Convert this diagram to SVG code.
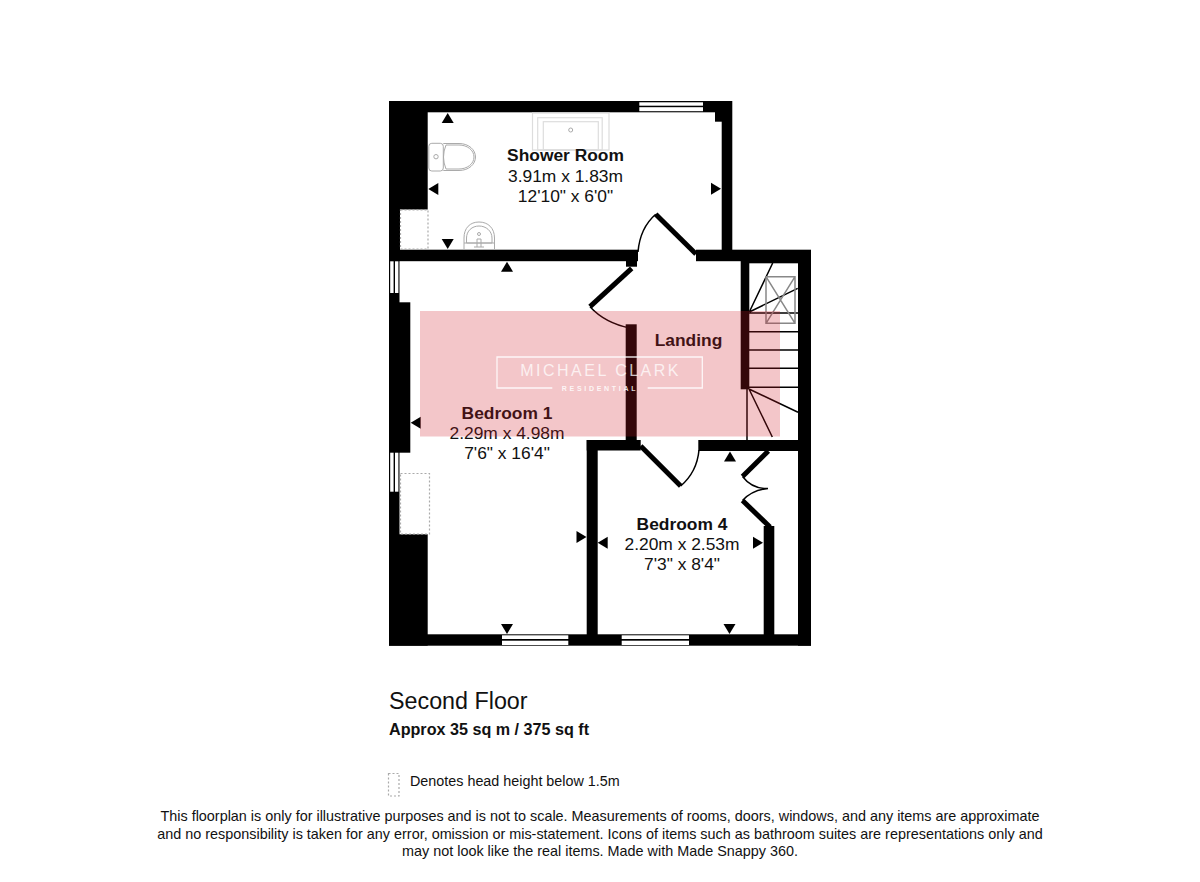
<svg xmlns="http://www.w3.org/2000/svg" width="1200" height="882" viewBox="0 0 1200 882">
<style>
text{font-family:"Liberation Sans",Arial,sans-serif;fill:#111}
.n{font-weight:bold;font-size:17.4px;text-anchor:middle}
.d{font-size:17.4px;text-anchor:middle}
.w{fill:#000}
.g{fill:none;stroke:#aaa;stroke-width:1}
.s{fill:none;stroke:#ddd;stroke-width:1.2}
.dash{fill:#fff;stroke:#aaa;stroke-width:1.2;stroke-dasharray:2 2}
.l{fill:none;stroke:#000;stroke-width:1.5}
.dr{fill:none;stroke:#000;stroke-width:5}
.fine{font-size:14.4px;text-anchor:middle}
</style>
<defs>
<polygon id="up" points="0,-5 6,5 -6,5" fill="#000"/>
<polygon id="dn" points="0,5 6,-5 -6,-5" fill="#000"/>
<polygon id="lf" points="-5,0 5,-6 5,6" fill="#000"/>
<polygon id="rt" points="5,0 -5,-6 -5,6" fill="#000"/>
</defs>
<rect width="1200" height="882" fill="#fff"/>
<g id="walls">
<rect class="w" x="389" y="101" width="343" height="11.3"/>
<rect class="w" x="389" y="101" width="38.7" height="108.5"/>
<rect class="w" x="389" y="101" width="11" height="160"/>
<rect class="w" x="721.7" y="101" width="10.6" height="160"/>
<rect class="w" x="715" y="112" width="7" height="9.7"/>
<rect class="w" x="389" y="249.7" width="249" height="11.5"/>
<rect class="w" x="626" y="260" width="11" height="6.7"/>
<rect class="w" x="696" y="249.7" width="115" height="11.5"/>
<rect class="w" x="749" y="250" width="49" height="13.3"/>
<rect class="w" x="798" y="250" width="13" height="395.7"/>
<rect class="w" x="740.7" y="260" width="8.6" height="129.3"/>
<rect class="w" x="389" y="261" width="10.5" height="42"/>
<rect class="w" x="389" y="302.3" width="21.3" height="150.4"/>
<rect class="w" x="389" y="452" width="10.5" height="85"/>
<rect class="w" x="389" y="534.3" width="38.7" height="111.4"/>
<rect class="w" x="625.7" y="324.3" width="11" height="125"/>
<rect class="w" x="586.7" y="440" width="54" height="10.5"/>
<rect class="w" x="586.7" y="440" width="11" height="205"/>
<rect class="w" x="698.3" y="440" width="112.7" height="11"/>
<rect class="w" x="763.7" y="526" width="10.6" height="110"/>
<rect class="w" x="798" y="451" width="2" height="185"/>
<rect class="w" x="389" y="634.3" width="422" height="11.4"/>
</g>
<g id="windows" fill="#fff">
<rect x="639.3" y="102.3" width="63.7" height="3.4"/><rect x="639.3" y="107.2" width="63.7" height="4"/>
<rect x="502" y="635.3" width="66.3" height="3.7"/><rect x="502" y="640.7" width="66.3" height="4.3"/>
<rect x="621.7" y="635.3" width="67.3" height="3.7"/><rect x="621.7" y="640.7" width="67.3" height="4.3"/>
<rect x="390.2" y="261.3" width="3.4" height="31.7"/><rect x="395" y="261.3" width="3.4" height="31.7"/>
<rect x="390.2" y="452.7" width="3.4" height="39"/><rect x="395" y="452.7" width="3.4" height="39"/>
</g>
<g id="head-height">
<rect class="dash" x="400.5" y="210" width="27.5" height="39"/>
<rect class="dash" x="400.5" y="473.5" width="29" height="60.5"/>
</g>
<g id="doors">
<path class="dr" d="M696 254L655.7 214.3"/>
<path class="l" d="M655.7 214.3Q640 228 638 252"/>
<path class="dr" d="M631.7 268.3L590 306.7"/>
<path class="l" d="M590 306.7Q605 323 630 328"/>
<path class="dr" d="M640.7 446L680.7 486"/>
<path class="l" d="M680.7 486Q697 472 699 450"/>
<path class="dr" d="M768.3 451L742.5 476.5"/>
<path class="l" d="M742.5 476.5Q752 489 768 488.5Q752 490 742.5 500.5"/>
<path class="dr" d="M742.5 500.5L770 527"/>
</g>
<g id="stairs">
<path class="l" d="M749 313H798M749 331.7H798M749 350H798M749 368.3H798M749 387.3H798M749 389L798 412.3M749 389L772.3 437M747 389V440M749.3 312L772.7 263M749.3 312L797.7 288.3"/>
<path d="M766 276.7H795V323.3H766ZM766 276.7L795 323.3M795 276.7L766 323.3" fill="none" stroke="#888" stroke-width="1.5"/>
</g>
<g id="fixtures">
<rect class="s" x="532.5" y="113" width="76.5" height="37"/>
<rect class="s" x="537.7" y="117.7" width="64.5" height="32.3"/>
<rect class="s" x="543.3" y="121.7" width="55" height="28.3"/>
<circle class="g" cx="570.7" cy="130" r="2"/>
<rect class="g" x="428.8" y="143.3" width="14.5" height="27.7" rx="3"/>
<circle class="g" cx="436" cy="156.7" r="2.2"/>
<path class="g" d="M443.3 143.5H459C469 143.5 475.5 150 475.5 157S469 170.5 459 170.5H443.3"/>
<path class="g" d="M446 145H459C467 145 474 150 474 157S467 169 459 169H446Q441 157 446 145Z"/>
<path class="g" d="M464 249V238C464 228 470 222 479 222S494.5 228 494.5 238V249"/>
<path class="g" d="M466.5 243V238C466.5 231 472 226 479 226S492 231 492 238V243Z"/>
<path class="g" d="M464 243H494.5M477 247V239H481V247M474 247H484"/>
<circle class="g" cx="479" cy="234" r="1.5"/>
</g>
<g id="markers">
<use href="#up" x="447.7" y="118"/>
<use href="#lf" x="433.3" y="189"/>
<use href="#dn" x="447.7" y="244"/>
<use href="#up" x="507" y="266.7"/>
<use href="#rt" x="716" y="188.7"/>
<use href="#lf" x="415.7" y="422.7"/>
<use href="#rt" x="581.5" y="537"/>
<use href="#lf" x="602.7" y="542.7"/>
<use href="#rt" x="758" y="542.7"/>
<use href="#dn" x="507" y="629"/>
<use href="#dn" x="729.5" y="629"/>
<use href="#up" x="730" y="456.5"/>
</g>
<g id="labels">
<text class="n" x="565.5" y="161">Shower Room</text>
<text class="d" x="565.5" y="181.5">3.91m x 1.83m</text>
<text class="d" x="565.5" y="201.5">12'10" x 6'0"</text>
<text class="n" x="688.5" y="345.5">Landing</text>
<text class="n" x="507" y="419">Bedroom 1</text>
<text class="d" x="507" y="439">2.29m x 4.98m</text>
<text class="d" x="507" y="459">7'6" x 16'4"</text>
<text class="n" x="682" y="530">Bedroom 4</text>
<text class="d" x="682" y="550">2.20m x 2.53m</text>
<text class="d" x="682" y="570">7'3" x 8'4"</text>
</g>
<g id="watermark">
<rect x="420" y="311" width="360" height="125.5" fill="rgb(207,27,39)" opacity=".25"/>
<path d="M552.3 388H497V357H702.3V388H647.7" fill="none" stroke="#fff" stroke-opacity=".85" stroke-width="1.3"/>
<text x="600.6" y="376" text-anchor="middle" font-size="16" letter-spacing="2.5" style="fill:#fff;fill-opacity:.75">MICHAEL CLARK</text>
<text x="600" y="390.7" text-anchor="middle" font-size="7" font-weight="bold" letter-spacing="2.7" style="fill:#fff;fill-opacity:.85">RESIDENTIAL</text>
</g>
<g id="caption">
<text x="389" y="709" font-size="23.3">Second Floor</text>
<text x="389" y="735" font-size="16.15" font-weight="bold">Approx 35 sq m / 375 sq ft</text>
<rect class="dash" x="388.5" y="773.5" width="10.5" height="22.5"/>
<text x="410" y="786" font-size="14.35">Denotes head height below 1.5m</text>
<text class="fine" x="600" y="821">This floorplan is only for illustrative purposes and is not to scale. Measurements of rooms, doors, windows, and any items are approximate</text>
<text class="fine" x="600" y="838.5">and no responsibility is taken for any error, omission or mis-statement. Icons of items such as bathroom suites are representations only and</text>
<text class="fine" x="600" y="856">may not look like the real items. Made with Made Snappy 360.</text>
</g>
</svg>
